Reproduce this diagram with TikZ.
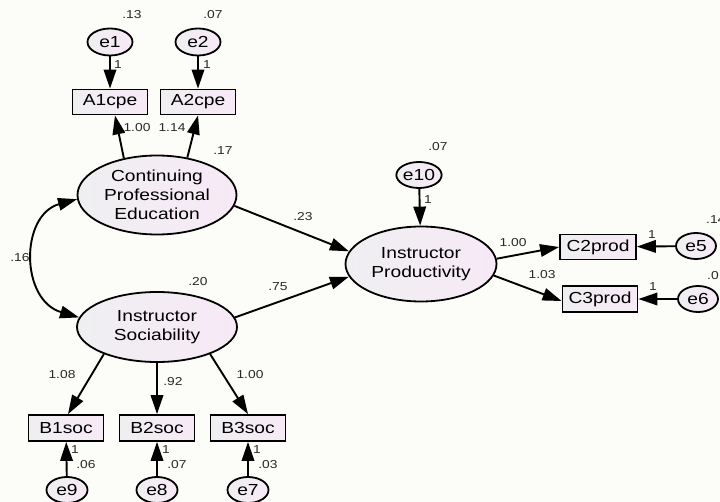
\documentclass[tikz,border=0pt]{standalone}
\usepackage{fontspec}
\setmainfont{Liberation Sans}[FakeStretch=1.2]
\usetikzlibrary{shapes.geometric,arrows.meta}
\definecolor{bgcol}{RGB}{252,253,248}
\definecolor{fillL}{RGB}{239,239,241}
\definecolor{fillR}{RGB}{247,233,246}
\definecolor{numcol}{RGB}{40,40,40}
\tikzset{
  latent/.style={ellipse, draw, line width=1.8pt, left color=fillL, right color=fillR, inner sep=0pt, align=center, font=\fontsize{16}{19}\selectfont},
  errv/.style={ellipse, draw, line width=1.8pt, left color=fillL, right color=fillR, inner sep=0pt, minimum width=42pt, minimum height=26pt, font=\fontsize{16}{19}\selectfont},
  obs/.style={rectangle, draw, line width=1.8pt, left color=fillL, right color=fillR, inner sep=0pt, minimum width=75pt, minimum height=25pt, font=\fontsize{16}{19}\selectfont},
  arr/.style={-{Triangle[length=19pt,width=12.5pt]}, line width=1.9pt},
  darr/.style={{Triangle[length=19pt,width=12.5pt]}-{Triangle[length=19pt,width=12.5pt]}, line width=1.9pt},
  num/.style={inner sep=0pt, text=numcol, font=\fontsize{11.5}{13}\selectfont}
}
\begin{document}
\begin{tikzpicture}[x=1pt,y=-1pt]
\fill[bgcol] (0,0) rectangle (720,502);
\useasboundingbox (0,0) rectangle (720,502);

% latent variables
\node[latent, minimum width=159pt, minimum height=79pt] (CPE) at (157,195) {Continuing\\Professional\\Education};
\node[latent, minimum width=160pt, minimum height=70pt] (IS) at (157,327) {Instructor\\Sociability};
\node[latent, minimum width=151pt, minimum height=75pt] (IP) at (421,264) {Instructor\\Productivity};

% observed variables
\node[obs] (A1) at (110,102) {A1cpe};
\node[obs] (A2) at (198,102) {A2cpe};
\node[obs, minimum height=26pt] (B1) at (66,428) {B1soc};
\node[obs, minimum height=26pt] (B2) at (157,428) {B2soc};
\node[obs, minimum height=26pt] (B3) at (248,428) {B3soc};
\node[obs, minimum width=76pt] (C2) at (598,247) {C2prod};
\node[obs, minimum height=26pt] (C3) at (600,299) {C3prod};

% error terms
\node[errv, minimum width=45pt, minimum height=27pt] (e1) at (110,42) {e1};
\node[errv, minimum width=45pt, minimum height=27pt] (e2) at (198,42) {e2};
\node[errv] (e10) at (419,175) {e10};
\node[errv, minimum width=40pt] (e5) at (696,246) {e5};
\node[errv, minimum width=40pt] (e6) at (698,299) {e6};
\node[errv, minimum width=41pt] (e9) at (67,490) {e9};
\node[errv, minimum width=41pt] (e8) at (157,490) {e8};
\node[errv, minimum width=41pt] (e7) at (248,490) {e7};

% connectors
\draw[arr] (e1) -- (A1);
\draw[arr] (e2) -- (A2);
\draw[arr] (CPE.132) -- ([xshift=5pt]A1.south);
\draw[arr] (CPE.51) -- (A2.south);
\draw[arr] (CPE.-8) -- (IP.170);
\draw[arr] (IS.7) -- (IP.190);
\draw[arr] (e10) -- (IP);
\draw[arr] (IP.4) -- (C2.west);
\draw[arr] (IP.-9) -- ([yshift=-2pt]C3.west);
\draw[arr] (e5) -- (C2);
\draw[arr] (e6) -- (C3);
\draw[arr] (IS.207) -- ([xshift=2pt]B1.north);
\draw[arr] (IS) -- (B2);
\draw[arr] (IS.333) -- (B3.north);
\draw[arr] (e9) -- (B1);
\draw[arr] (e8) -- (B2);
\draw[arr] (e7) -- (B3);
\draw[darr] (CPE.183) .. controls (20,215) and (20,300) .. (IS.173);

% labels
\node[num] (l1) at (132,15) {.13};
\node[num] (l2) at (213,15) {.07};
\node[num] (l3) at (118,65) {1};
\node[num] (l4) at (207,65) {1};
\node[num] (l5) at (137,128) {1.00};
\node[num] (l6) at (172,128) {1.14};
\node[num] (l7) at (223,151) {.17};
\node[num] (l8) at (303,217) {.23};
\node[num] (l9) at (438,147) {.07};
\node[num] (l10) at (428,200) {1};
\node[num] (l11) at (513,243) {1.00};
\node[num] (l12) at (542,275) {1.03};
\node[num] (l13) at (652,235) {1};
\node[num] (l14) at (653,287) {1};
\node[num, anchor=west] (l15) at (706,220) {.14};
\node[num, anchor=west] (l16) at (707,276) {.0};
\node[num] (l17) at (20,258) {.16};
\node[num] (l18) at (198,282) {.20};
\node[num] (l19) at (278,287) {.75};
\node[num] (l20) at (62,375) {1.08};
\node[num] (l21) at (173,382) {.92};
\node[num] (l22) at (250,375) {1.00};
\node[num] (l23) at (75,450) {1};
\node[num] (l24) at (86,465) {.06};
\node[num] (l25) at (166,450) {1};
\node[num] (l26) at (177,465) {.07};
\node[num] (l27) at (257,450) {1};
\node[num] (l28) at (268,465) {.03};
\end{tikzpicture}
\end{document}
